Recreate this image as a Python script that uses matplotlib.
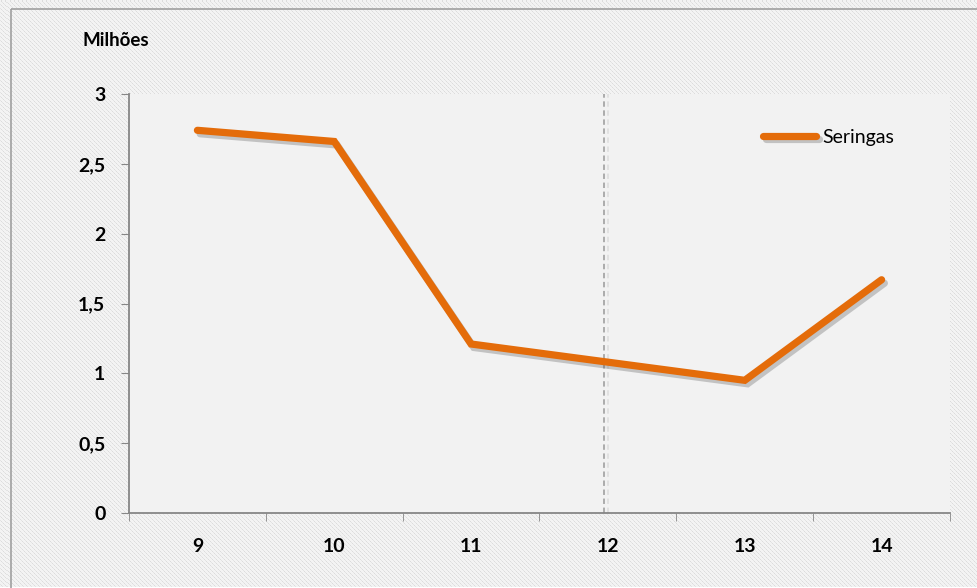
import matplotlib.pyplot as plt
import matplotlib.patheffects as pe
from matplotlib.patches import Rectangle
import numpy as np

# data
categories = ["9", "10", "11", "12", "13", "14"]
seringas = [2.74, 2.66, 1.21, 1.08, 0.95, 1.67]
y_ticks = [0, 0.5, 1, 1.5, 2, 2.5, 3]
y_tick_labels = ["0", "0,5", "1", "1,5", "2", "2,5", "3"]
marker_category = "12"

plt.rcParams['font.family'] = ['Lato', 'DejaVu Sans']

fig = plt.figure(figsize=(9.77, 5.88), dpi=100)

# textured background (fine diagonal dot pattern)
bg = fig.add_axes([0, 0, 1, 1], zorder=-10)
h, w = 588, 977
ii, jj = np.mgrid[0:h, 0:w]
tex = np.full((h, w), 0.955)
tex[((ii + jj) % 4 == 0) & (ii % 2 == 0)] = 0.86
tex[((ii - jj) % 4 == 0) & (ii % 2 == 1)] = 0.89
bg.imshow(tex, cmap='gray', vmin=0, vmax=1, aspect='auto', interpolation='nearest')
bg.axis('off')
bg.add_patch(Rectangle((11, 9), 1000, 1000, fill=False, edgecolor='#a0a0a0', lw=1.2))
bg.set_xlim(0, w)
bg.set_ylim(h, 0)

ax = fig.add_axes([129 / 977, 75 / 588, 821 / 977, 419 / 588])
ax.set_facecolor('#f2f2f2')

x = np.arange(len(categories))
ax.plot(x, seringas, color='#e46c0a', lw=5.2, solid_capstyle='round',
        solid_joinstyle='miter', label='Seringas',
        path_effects=[pe.SimpleLineShadow(offset=(2, -2.5), shadow_color='#555555', alpha=0.3),
                      pe.Normal()])

xm = categories.index(marker_category)
ax.axvline(xm - 0.03, color='#a6a6a6', lw=1.3, ls=(0, (3, 2)), zorder=1,
           path_effects=[pe.SimpleLineShadow(offset=(3, 0), shadow_color='#999999', alpha=0.2),
                         pe.Normal()])

ax.set_xlim(-0.5, len(categories) - 0.5)
ax.set_ylim(0, 3)

ax.set_xticks(x)
ax.set_xticklabels(categories, fontsize=14, fontweight='bold')
ax.set_xticks(np.arange(len(categories) + 1) - 0.5, minor=True)
ax.tick_params(axis='x', which='major', length=0, pad=18)
ax.tick_params(axis='x', which='minor', length=6, color='#868686', direction='out')

ax.set_yticks(y_ticks)
ax.set_yticklabels(y_tick_labels, fontsize=14, fontweight='bold')
ax.tick_params(axis='y', length=6, color='#868686', direction='out', pad=11)

for s in ['top', 'right']:
    ax.spines[s].set_visible(False)
for s in ['left', 'bottom']:
    ax.spines[s].set_color('#868686')
    ax.spines[s].set_linewidth(1.3)

fig.text(116 / 977, 1 - 40 / 588, 'Milhões', fontsize=13.5, fontweight='bold',
         ha='center', va='center')

leg = ax.legend(loc='center left', bbox_to_anchor=(0.772, 0.897), frameon=False,
                fontsize=14, handlelength=2.75, handletextpad=0.3,
                borderpad=0, borderaxespad=0)

fig.savefig('out.png', dpi=100)
